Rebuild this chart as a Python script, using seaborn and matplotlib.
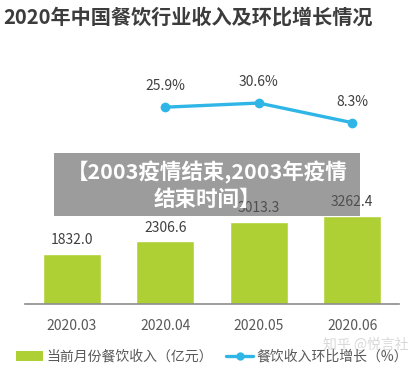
import matplotlib
matplotlib.use("Agg")
import matplotlib.pyplot as plt
from matplotlib.patches import Patch, Rectangle
from matplotlib.lines import Line2D
import numpy as np
import seaborn as sns

# data
months = ["2020.03", "2020.04", "2020.05", "2020.06"]
revenue = [1832.0, 2306.6, 3013.3, 3262.4]          # 当前月份餐饮收入（亿元）
growth = [np.nan, 25.9, 30.6, 8.3]                   # 餐饮收入环比增长（%）

title = "2020年中国餐饮行业收入及环比增长情况"
overlay_text = "【2003疫情结束,2003年疫情\n结束时间】"
legend_labels = ["当前月份餐饮收入（亿元）", "餐饮收入环比增长（%）"]
watermark = "知乎 @悦言社"

bar_color = "#afd034"
line_color = "#2fb6e6"
text_color = "#404040"
tick_color = "#595959"

sns.set_theme(style="white")
plt.rcParams["font.family"] = ["Noto Sans CJK SC", "DejaVu Sans"]

W, H = 416, 370
fig = plt.figure(figsize=(W / 100, H / 100), dpi=100)
fig.patch.set_facecolor("white")

# bars
ax = fig.add_axes([25 / W, 66 / H, 374 / W, 244 / H])
sns.barplot(x=months, y=revenue, color=bar_color, saturation=1,
            width=0.62, ax=ax)
ax.set_xlim(-0.5, len(months) - 0.5)
ax.set_ylim(0, 9000)
ax.set_ylabel("")
ax.set_yticks([])
for side in ["left", "right", "top"]:
    ax.spines[side].set_visible(False)
ax.spines["bottom"].set_color("#8c8c8c")
ax.spines["bottom"].set_linewidth(1.2)
ax.tick_params(axis="x", length=0, pad=10.5, labelsize=10, labelcolor=tick_color)
ax.bar_label(ax.containers[0], fmt="%.1f", padding=5, fontsize=10,
             color=text_color)

# month-on-month growth line
ax2 = ax.twinx()
xs = np.arange(len(months))
sns.lineplot(x=xs, y=growth, color=line_color, linewidth=2.4, marker="o",
             markersize=7, markeredgewidth=0, ax=ax2)
ax2.set_ylim(-197.7, 79.5)
ax2.set_yticks([])
for side in ["left", "right", "top", "bottom"]:
    ax2.spines[side].set_visible(False)
for x, v in zip(xs, growth):
    if np.isnan(v):
        continue
    ax2.annotate(f"{v}%", (x, v), xytext=(0, 15), textcoords="offset points",
                 ha="center", va="center", fontsize=10, color=text_color)

# title
fig.text(3 / W, 1 - 17 / H, title, fontsize=14.5, fontweight="bold",
         color="#3c3c3c", ha="left", va="center")

# legend
handles = [Patch(facecolor=bar_color, edgecolor="none"),
           Line2D([], [], color=line_color, linewidth=2.4, marker="o",
                  markersize=6, markeredgewidth=0)]
fig.legend(handles, legend_labels, loc="center",
           bbox_to_anchor=(212 / W, 1 - 356.5 / H), ncol=2, frameon=False,
           fontsize=10, labelcolor=tick_color, handlelength=1.9,
           handletextpad=0.25, columnspacing=1.0, borderaxespad=0)

# watermark
fig.text(323 / W, 1 - 345 / H, watermark, fontsize=10, color="#c8c8c8",
         alpha=0.7, ha="left", va="center")

# grey overlay banner
fig.add_artist(Rectangle((54 / W, (H - 216) / H), 306 / W, 63 / H,
                         transform=fig.transFigure, facecolor="#5a5a5a",
                         alpha=0.6, edgecolor="none", zorder=5))
fig.text(207 / W, 1 - 185.5 / H, overlay_text, fontsize=15.5,
         fontweight="bold", color="white", ha="center", va="center",
         linespacing=1.25, zorder=6)

fig.savefig("out.png", dpi=100)
